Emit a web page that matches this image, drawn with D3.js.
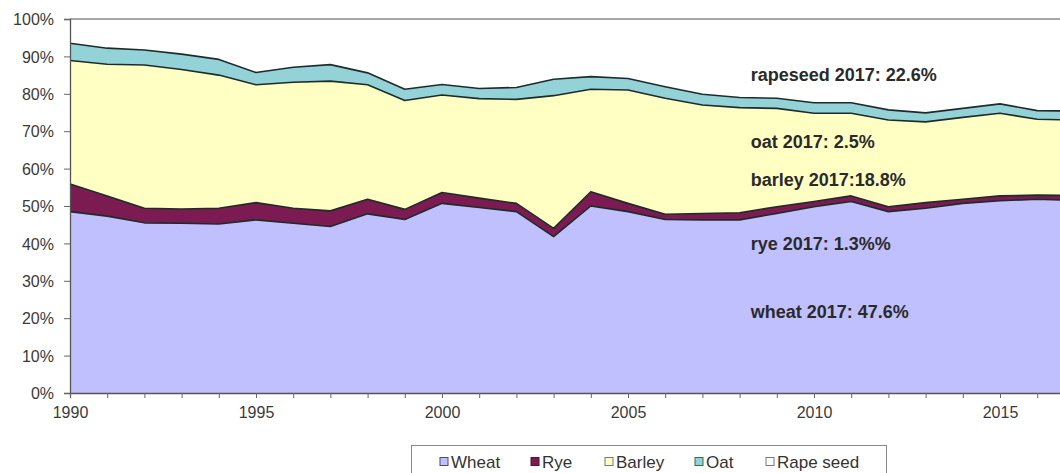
<!DOCTYPE html>
<html><head><meta charset="utf-8">
<script src="https://cdn.jsdelivr.net/npm/d3@7"></script>
<style>
body{margin:0;background:#fff}
svg{display:block;font-family:"Liberation Sans",Arial,sans-serif}
</style>
</head><body>
<svg id="chart" width="1060" height="473"></svg>
<script>
// ---- data (shares in %) ----
const years    = [1990,1991,1992,1993,1994,1995,1996,1997,1998,1999,2000,2001,2002,2003,2004,2005,2006,2007,2008,2009,2010,2011,2012,2013,2014,2015,2016,2017];
const wheat    = [48.5,47.3,45.5,45.4,45.2,46.3,45.4,44.5,47.9,46.4,50.7,49.6,48.5,41.8,50.0,48.5,46.4,46.3,46.3,48.0,49.8,51.2,48.5,49.4,50.7,51.4,51.8,51.5];
const rye      = [7.4,5.4,3.9,3.8,4.2,4.6,4.0,4.2,3.9,2.7,2.9,2.5,2.2,2.2,3.8,2.2,1.4,1.7,1.9,1.8,1.4,1.5,1.3,1.5,1.1,1.3,1.1,1.3];
const barley   = [33.0,35.2,38.3,37.3,35.6,31.5,33.7,34.7,30.6,29.1,26.1,26.6,27.8,35.5,27.4,30.3,31.0,29.0,28.1,26.3,23.6,22.1,23.2,21.6,21.9,22.1,20.3,20.2];
const oat      = [4.6,4.3,4.0,4.1,4.2,3.3,4.0,4.4,3.2,3.0,2.8,2.7,3.2,4.4,3.4,3.1,3.1,2.9,2.7,2.7,2.8,2.8,2.7,2.4,2.4,2.5,2.3,2.4];
const rapeseed = [6.5,7.8,8.3,9.4,10.8,14.3,12.9,12.2,14.4,18.8,17.5,18.6,18.3,16.1,15.4,15.9,18.1,20.1,21.0,21.2,22.4,22.4,24.3,25.1,23.9,22.7,24.5,24.6];
const seriesNames = ["Wheat","Rye","Barley","Oat","Rape seed"];
const yTicks = [0,10,20,30,40,50,60,70,80,90,100];
const xLabelYears = [1990,1995,2000,2005,2010,2015];
const notes = ["rapeseed 2017: 22.6%","oat 2017: 2.5%","barley 2017:18.8%","rye 2017: 1.3%%","wheat 2017: 47.6%"];
const noteLevels = [83.4, 65.5, 55.3, 38.2, 20.1];
const noteYear = 2008.3;

// ---- styles ----
const fills  = {"Wheat":"#c0c0ff","Rye":"#7c1b52","Barley":"#ffffc4","Oat":"#93d3d7","Rape seed":"#ffffff"};
const swatchStroke = {"Wheat":"#4a4a7a","Rye":"#5a1038","Barley":"#777","Oat":"#3a6a4a","Rape seed":"#777"};

const table = years.map((yr,i)=>({year:yr,"Wheat":wheat[i],"Rye":rye[i],"Barley":barley[i],"Oat":oat[i],"Rape seed":rapeseed[i]}));

const svg = d3.select("#chart");
const plotLeft = 70, plotTop = 19, plotBottom = 393;
const x = d3.scaleLinear().domain([1990,2017]).range([plotLeft, 1074.4]);
const y = d3.scaleLinear().domain([0,100]).range([plotBottom, plotTop]);

const stacked = d3.stack().keys(seriesNames)(table);

const area = d3.area().x(d=>x(d.data.year)).y0(d=>y(d[0])).y1(d=>y(d[1])).curve(d3.curveLinear);
const line = d3.line().x(d=>x(d.data.year)).y(d=>y(d[1])).curve(d3.curveLinear);

svg.append("g").selectAll("path").data(stacked).join("path")
  .attr("d", area).attr("fill", d=>fills[d.key]).attr("stroke","none");

svg.append("g").selectAll("path").data(stacked.slice(0,4)).join("path")
  .attr("d", line).attr("fill","none").attr("stroke","#1e2b2b").attr("stroke-width",1.6)
  .attr("stroke-linejoin","round");

// top border of plot area
svg.append("line").attr("x1",plotLeft).attr("x2",1060).attr("y1",y(100)).attr("y2",y(100))
  .attr("stroke","#8a8a8a").attr("stroke-width",1.6);

// y axis
const yAxis = svg.append("g").attr("transform",`translate(${plotLeft},0)`)
  .call(d3.axisLeft(y).tickValues(yTicks).tickFormat(d=>d+"%").tickSize(6).tickPadding(10));
yAxis.select(".domain").attr("stroke","#555").attr("stroke-width",1.3);
yAxis.selectAll(".tick line").attr("stroke","#666");
yAxis.selectAll("text").attr("font-size",16).attr("fill","#3a3a3a").attr("font-family","Liberation Sans, Arial, sans-serif").attr("dy","0.35em");

// x axis
const xAxis = svg.append("g").attr("transform",`translate(0,${plotBottom})`)
  .call(d3.axisBottom(x).tickValues(years).tickFormat(d=>xLabelYears.includes(d)?String(d):"").tickSize(5).tickPadding(9));
xAxis.select(".domain").attr("stroke","#555").attr("stroke-width",1.3);
xAxis.selectAll(".tick line").attr("stroke","#666");
xAxis.selectAll("text").attr("font-size",16).attr("fill","#3a3a3a").attr("font-family","Liberation Sans, Arial, sans-serif");

// annotations
svg.append("g").selectAll("text").data(notes).join("text")
  .attr("x", x(noteYear)).attr("y",(d,i)=>y(noteLevels[i]))
  .attr("font-size",18).attr("font-weight","bold").attr("fill","#2a2a2a")
  .text(d=>d);

// legend
const lg = svg.append("g");
lg.append("rect").attr("x",411.5).attr("y",445.5).attr("width",475).attr("height",40)
  .attr("fill","#fff").attr("stroke","#888").attr("stroke-width",1);
const legendX = [440, 531, 605, 695, 766];
const items = lg.selectAll("g.item").data(seriesNames).join("g").attr("class","item")
  .attr("transform",(d,i)=>`translate(${legendX[i]},461.5)`);
items.append("rect").attr("x",0).attr("y",-4).attr("width",8).attr("height",8)
  .attr("fill",d=>fills[d]).attr("stroke",d=>swatchStroke[d]).attr("stroke-width",1);
items.append("text").attr("x",11).attr("dy","0.36em").attr("font-size",17).attr("fill","#333").text(d=>d);
</script>
</body></html>
